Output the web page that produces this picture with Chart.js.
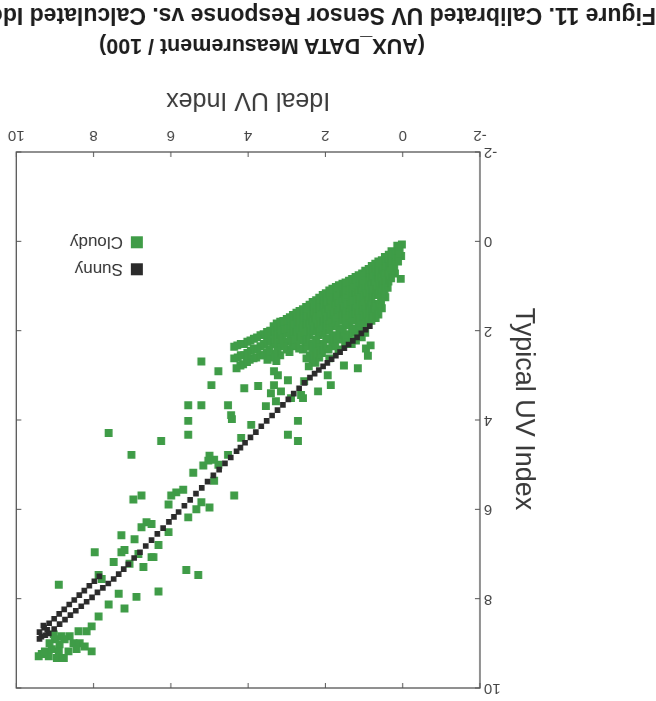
<!DOCTYPE html>
<html>
<head>
<meta charset="utf-8">
<script src="https://cdn.jsdelivr.net/npm/chart.js@4"></script>
<style>
  html, body { margin: 0; padding: 0; background: #fff; overflow: hidden; }
  #page { position: absolute; left: 0; top: 0; width: 656px; height: 701px; overflow: hidden;
          background: #fff; transform: rotate(180deg); transform-origin: 50% 50%; }
  #c { position: absolute; left: 0; top: 0; }
  .cap { position: absolute; white-space: nowrap; font-family: "Liberation Sans", Arial, sans-serif;
         font-weight: bold; color: #1c1c1c; }
  #aux { left: 394px; top: 655px; transform: translate(-50%, -50%); font-size: 21.5px; }
  #fig { left: 0px; top: 673px; font-size: 23px; line-height: 24px; }
</style>
</head>
<body>
<div id="page">
  <canvas id="c" width="656" height="701"></canvas>
  <div class="cap" id="aux">(AUX_DATA Measurement / 100)</div>
  <div class="cap" id="fig">Figure 11. Calibrated UV Sensor Response vs. Calculated Ideal UV Index</div>
</div>
<script>
// ---- data: [Ideal UV Index, Typical UV Index] ----
const seriesNames = ["Sunny", "Cloudy"];
const xTitle = "Ideal UV Index";
const yTitle = "Typical UV Index";
const axisMin = -2, axisMax = 10, axisStep = 2;

const sunnyPoints = [
  [0.85,1.90],[0.96,1.98],[1.07,2.06],[1.18,2.15],[1.29,2.23],[1.40,2.31],[1.51,2.39],[1.62,2.48],
  [1.73,2.56],[1.84,2.64],[1.95,2.72],[2.06,2.80],[2.17,2.88],[2.28,2.96],[2.40,3.05],
  [2.54,3.17],[2.68,3.29],[2.82,3.41],[2.96,3.54],[3.10,3.66],[3.24,3.78],[3.38,3.90],[3.52,4.02],
  [3.66,4.14],[3.80,4.27],[3.94,4.39],[4.08,4.51],[4.20,4.62],[4.30,4.70],
  [4.45,4.84],[4.60,4.97],[4.75,5.11],[4.90,5.24],[5.05,5.38],[5.20,5.52],[5.35,5.65],[5.50,5.79],
  [5.65,5.92],[5.80,6.06],[5.92,6.17],[6.05,6.28],
  [6.20,6.42],[6.35,6.55],[6.50,6.69],[6.65,6.82],[6.80,6.96],[6.95,7.09],[7.10,7.23],[7.22,7.34],[7.35,7.45],
  [7.48,7.56],[7.62,7.66],[7.76,7.76],[7.90,7.86],[8.04,7.97],[8.18,8.07],[8.32,8.17],[8.46,8.27],
  [8.60,8.37],[8.74,8.47],[8.88,8.57],[9.02,8.68],[9.16,8.78],
  [7.85,7.50],[7.98,7.61],[8.11,7.71],[8.24,7.82],[8.37,7.92],[8.50,8.03],[8.63,8.13],[8.76,8.24],
  [8.89,8.34],[9.02,8.45],[9.15,8.55],[9.28,8.65],[9.40,8.75],
  [9.30,8.60],[9.35,8.85],[9.25,8.82],[9.40,8.90],[9.20,8.70]
];

const cloudyPoints = [
  // dense cluster at low UV
  [0.02,0.07],[0.08,0.20],[0.04,0.33],[0.14,0.10],[0.20,0.27],[0.18,0.42],[0.22,0.58],[0.20,0.72],[0.05,0.84],
  [0.12,0.15],[0.12,0.30],[0.12,0.45],
  [0.29,0.22],[0.29,0.38],[0.30,0.52],[0.28,0.68],[0.30,0.83],
  [0.36,0.30],[0.38,0.45],[0.35,0.60],[0.40,0.76],[0.37,0.90],[0.39,1.04],
  [0.46,0.35],[0.46,0.50],[0.47,0.65],[0.45,0.80],[0.46,0.95],[0.47,1.10],[0.45,1.25],
  [0.54,0.42],[0.52,0.57],[0.56,0.72],[0.53,0.87],[0.55,1.02],[0.52,1.18],[0.56,1.35],[0.54,1.50],
  [0.63,0.45],[0.63,0.60],[0.64,0.75],[0.62,0.90],[0.63,1.05],[0.64,1.20],[0.62,1.48],[0.63,1.64],
  [0.71,0.50],[0.70,0.65],[0.73,0.80],[0.70,0.96],[0.72,1.10],[0.71,1.40],[0.73,1.56],[0.70,1.72],
  [0.80,0.55],[0.80,0.70],[0.81,0.86],[0.79,1.00],[0.80,1.16],[0.81,1.31],[0.79,1.46],[0.80,1.62],[0.81,1.78],
  [0.88,0.62],[0.87,0.78],[0.90,0.93],[0.86,1.08],[0.89,1.23],[0.88,1.38],[0.90,1.53],[0.86,1.68],
  [0.97,0.66],[0.97,0.81],[0.98,0.96],[0.96,1.11],[0.97,1.26],[0.98,1.41],[0.96,1.56],[0.97,1.72],[0.98,1.88],[0.97,2.05],
  [1.05,0.72],[1.04,0.87],[1.07,1.02],[1.03,1.17],[1.06,1.32],[1.05,1.47],[1.03,1.62],[1.07,1.78],[1.04,1.94],[1.06,2.15],
  [1.14,0.76],[1.14,0.91],[1.15,1.06],[1.13,1.21],[1.14,1.36],[1.15,1.52],[1.13,1.66],[1.14,1.86],[1.15,2.00],
  [1.22,0.80],[1.21,0.95],[1.24,1.10],[1.20,1.26],[1.23,1.41],[1.22,1.56],[1.20,1.72],[1.24,2.05],[1.21,2.22],
  [1.31,0.84],[1.31,1.00],[1.32,1.15],[1.30,1.30],[1.31,1.45],[1.32,1.60],[1.30,1.76],[1.31,1.95],[1.32,2.30],
  [1.39,0.88],[1.38,1.03],[1.41,1.18],[1.37,1.33],[1.40,1.49],[1.39,1.64],[1.38,1.80],[1.40,2.12],
  [1.48,0.92],[1.48,1.07],[1.49,1.22],[1.47,1.37],[1.48,1.52],[1.49,1.66],[1.47,1.88],[1.48,2.08],[1.49,2.30],
  [1.56,0.95],[1.55,1.10],[1.58,1.26],[1.54,1.41],[1.57,1.57],[1.56,1.72],[1.55,2.00],[1.58,2.16],
  [1.65,0.98],[1.65,1.14],[1.66,1.30],[1.64,1.45],[1.65,1.62],[1.66,1.78],[1.64,1.95],[1.65,2.20],[1.66,2.42],
  [1.73,1.02],[1.72,1.18],[1.75,1.34],[1.71,1.50],[1.74,1.66],[1.73,1.82],[1.72,2.10],[1.75,2.30],
  [1.82,1.06],[1.82,1.22],[1.83,1.38],[1.81,1.54],[1.82,1.70],[1.83,1.90],[1.81,2.12],[1.82,2.35],
  [1.90,1.10],[1.89,1.26],[1.92,1.42],[1.88,1.58],[1.91,1.75],[1.90,2.00],[1.89,2.20],[1.92,2.42],[1.90,2.62],
  [1.99,1.16],[1.99,1.32],[2.00,1.48],[1.98,1.64],[1.99,1.80],[2.00,1.95],[1.98,2.18],[1.99,2.40],
  [2.07,1.20],[2.06,1.36],[2.09,1.52],[2.05,1.68],[2.08,1.85],[2.07,2.05],[2.06,2.30],[2.09,2.50],
  [2.16,1.26],[2.16,1.42],[2.17,1.58],[2.15,1.74],[2.16,1.90],[2.17,2.10],[2.15,2.35],[2.16,2.60],
  [2.24,1.32],[2.23,1.48],[2.26,1.64],[2.22,1.80],[2.25,1.96],[2.24,2.20],[2.23,2.45],[2.26,2.72],
  [2.33,1.36],[2.33,1.52],[2.34,1.68],[2.32,1.85],[2.33,2.02],[2.34,2.28],[2.32,2.50],[2.33,2.68],
  [2.41,1.42],[2.40,1.58],[2.43,1.74],[2.39,1.90],[2.42,2.10],[2.41,2.36],[2.40,2.55],[2.43,2.80],
  [2.50,1.47],[2.50,1.63],[2.51,1.80],[2.49,1.96],[2.50,2.15],[2.51,2.32],[2.49,2.62],
  [2.58,1.52],[2.57,1.68],[2.60,1.84],[2.56,2.02],[2.59,2.20],[2.58,2.42],
  [2.67,1.56],[2.67,1.72],[2.68,1.88],[2.66,2.05],[2.67,2.22],[2.68,2.40],
  [2.75,1.60],[2.74,1.76],[2.77,1.94],[2.73,2.10],[2.76,2.30],
  [2.84,1.65],[2.84,1.82],[2.85,1.98],[2.83,2.14],[2.84,2.35],
  [2.92,1.70],[2.91,1.86],[2.94,2.02],[2.90,2.20],[2.93,2.48],
  [3.00,1.74],[3.00,1.90],[3.01,2.06],[2.99,2.25],[3.00,2.42],
  [3.09,1.78],[3.08,1.95],[3.11,2.12],[3.07,2.35],
  [3.17,1.80],[3.17,1.98],[3.18,2.15],[3.16,2.30],[3.17,2.55],
  [3.26,1.84],[3.25,2.00],[3.28,2.20],[3.24,2.45],[3.27,2.68],
  [3.34,1.90],[3.34,2.10],[3.35,2.30],[3.33,2.52],
  [3.43,2.00],[3.42,2.20],[3.45,2.42],[3.41,2.60],
  [3.51,2.03],[3.51,2.25],[3.52,2.48],[3.50,2.65],
  [3.60,2.08],[3.59,2.30],[3.62,2.55],
  [3.68,2.10],[3.68,2.35],[3.69,2.55],
  [3.77,2.15],[3.76,2.42],[3.79,2.60],
  [3.85,2.18],[3.85,2.40],[3.86,2.62],
  [3.94,2.22],[3.93,2.45],[3.96,2.65],
  [4.02,2.25],[4.02,2.50],[4.03,2.70],
  [4.11,2.30],[4.10,2.55],[4.13,2.75],
  [4.19,2.30],[4.19,2.55],[4.20,2.78],
  [4.28,2.33],[4.27,2.60],[4.30,2.84],
  [4.36,2.36],[4.36,2.62],
  // scattered points
  [0.95,2.40],[1.16,2.84],[1.52,2.78],[0.83,2.33],[0.90,2.56],
  [1.86,3.22],[1.94,3.00],[2.19,3.36],[2.55,3.13],[2.63,3.44],[2.89,3.51],[3.15,3.36],[3.33,3.22],
  [3.23,3.00],[3.33,2.91],[2.97,3.11],[2.58,3.51],
  [3.41,3.40],[3.28,3.58],[3.54,3.69],[3.74,3.24],[4.10,3.29],
  [2.71,4.02],[2.97,4.33],[2.71,4.47],
  [3.92,4.11],[4.18,4.40],[4.52,4.78],[4.88,4.89],[5.00,4.80],
  [5.21,2.69],[4.77,2.91],[4.95,3.22],
  [5.55,3.67],[5.21,3.67],[4.52,3.67],[4.44,3.89],[4.42,3.98],
  [5.55,4.02],[5.55,4.33],[6.25,4.47],
  [7.61,4.29],[7.02,4.78],
  [5.03,4.91],[4.77,5.00],[5.16,5.02],[5.42,5.18],[4.88,5.36],[4.36,5.69],
  [5.68,5.56],[5.86,5.62],[5.99,5.69],[6.06,5.89],
  [5.21,5.84],[5.00,5.96],[5.34,6.00],[5.55,6.18],
  [6.97,5.78],[6.76,5.69],
  [6.63,6.29],[6.50,6.33],[6.76,6.40],[6.06,6.51],
  [7.28,6.58],[6.94,6.67],[6.32,6.80],
  [7.97,6.96],[7.28,6.96],[7.20,6.91],[6.84,7.00],
  [7.48,7.18],[6.50,7.07],[6.71,7.29],[7.07,7.22],[6.45,7.07],
  [5.60,7.36],[5.29,7.47],[7.87,7.47],
  [7.79,7.56],[8.90,7.69],
  [7.35,7.89],[6.89,7.96],[6.32,7.84],
  [7.61,8.13],[7.20,8.22],
  [7.87,8.40],[8.05,8.62],[8.18,8.73],
  // cluster at high UV
  [8.39,8.73],[8.62,8.84],[8.83,8.84],[9.00,8.91],[9.14,9.00],[8.88,9.02],[8.52,9.00],[8.36,9.00],
  [8.23,9.07],[8.05,9.18],[8.44,9.13],[8.65,9.18],[8.90,9.18],[9.08,9.13],[9.34,9.24],[9.42,9.29],
  [9.16,9.29],[8.95,9.33],[8.77,9.33],[9.26,9.18],[8.75,8.91],[9.03,8.80]
];

const sunnyColor = "#2b2b2b";
const cloudyColor = "#3f9c47";
const FONT = '"Liberation Sans", Arial, sans-serif';

const toXY = pts => pts.map(p => ({ x: p[0], y: p[1] }));

// frame with inward tick marks on all four sides
const framePlugin = {
  id: "frame",
  afterDatasetsDraw(chart) {
    const { ctx, chartArea: a, scales } = chart;
    ctx.save();
    ctx.strokeStyle = "#555";
    ctx.lineWidth = 1.3;
    ctx.strokeRect(a.left, a.top, a.right - a.left, a.bottom - a.top);
    ctx.lineWidth = 1;
    const L = 5;
    scales.x.ticks.forEach(t => {
      const px = scales.x.getPixelForValue(t.value);
      ctx.beginPath();
      ctx.moveTo(px, a.bottom); ctx.lineTo(px, a.bottom - L);
      ctx.moveTo(px, a.top); ctx.lineTo(px, a.top + L);
      ctx.stroke();
    });
    scales.y.ticks.forEach(t => {
      const py = scales.y.getPixelForValue(t.value);
      ctx.beginPath();
      ctx.moveTo(a.left, py); ctx.lineTo(a.left + L, py);
      ctx.moveTo(a.right, py); ctx.lineTo(a.right - L, py);
      ctx.stroke();
    });
    ctx.restore();
  }
};

// y-axis title, drawn slightly below the axis centre as in the source figure
const yTitlePlugin = {
  id: "yTitle",
  afterDraw(chart) {
    const { ctx, chartArea: a } = chart;
    ctx.save();
    ctx.translate(133, (a.top + a.bottom) / 2 + 11);
    ctx.rotate(-Math.PI / 2);
    ctx.font = "27px " + FONT;
    ctx.fillStyle = "#3a3a3a";
    ctx.textAlign = "center";
    ctx.textBaseline = "middle";
    ctx.fillText(yTitle, 0, 0);
    ctx.restore();
  }
};

// legend placed inside the plot, lower right
const insideLegend = {
  id: "insideLegend",
  afterDraw(chart) {
    const { ctx, chartArea: a } = chart;
    const w = a.right - a.left, h = a.bottom - a.top;
    const x0 = a.left + 0.727 * w;
    let y0 = a.top + 0.770 * h;
    ctx.save();
    ctx.font = "17px " + FONT;
    ctx.textBaseline = "middle";
    chart.data.datasets.forEach(ds => {
      ctx.fillStyle = ds.backgroundColor;
      ctx.fillRect(x0, y0, 12, 12);
      ctx.fillStyle = "#333";
      ctx.fillText(ds.label, x0 + 20, y0 + 6.5);
      y0 += 27;
    });
    ctx.restore();
  }
};

new Chart(document.getElementById("c"), {
  type: "scatter",
  data: {
    datasets: [
      { label: seriesNames[0], data: toXY(sunnyPoints), backgroundColor: sunnyColor,
        borderWidth: 0, pointStyle: "rect", pointRadius: 4, pointHoverRadius: 4 },
      { label: seriesNames[1], data: toXY(cloudyPoints), backgroundColor: cloudyColor,
        borderWidth: 0, pointStyle: "rect", pointRadius: 5.6, pointHoverRadius: 5.6 }
    ]
  },
  options: {
    responsive: false,
    animation: false,
    devicePixelRatio: 1,
    layout: { padding: { left: 117, right: 15, top: 9, bottom: 81 } },
    plugins: { legend: { display: false }, tooltip: { enabled: false } },
    scales: {
      x: {
        type: "linear", min: axisMin, max: axisMax,
        ticks: { stepSize: axisStep, padding: 8, color: "#444", font: { family: FONT, size: 15 } },
        grid: { display: false, drawTicks: false },
        border: { display: false },
        title: { display: true, text: xTitle, color: "#3a3a3a", font: { family: FONT, size: 25 },
                 padding: { top: 4, bottom: 4 } },
        afterFit(s) { s.height = 71; }
      },
      y: {
        type: "linear", min: axisMin, max: axisMax,
        ticks: { stepSize: axisStep, padding: 4, color: "#444", font: { family: FONT, size: 15 } },
        grid: { display: false, drawTicks: false },
        border: { display: false },
        title: { display: false, text: yTitle },
        afterFit(s) { s.width = 59; }
      }
    }
  },
  plugins: [framePlugin, yTitlePlugin, insideLegend]
});
</script>
</body>
</html>
